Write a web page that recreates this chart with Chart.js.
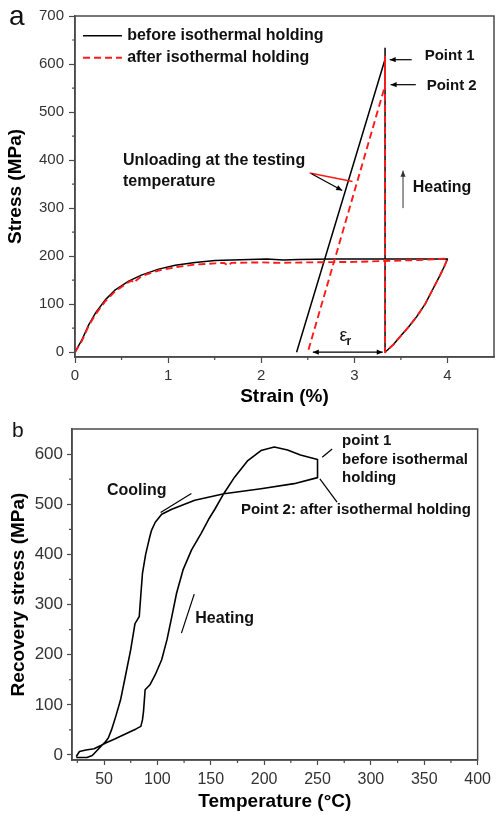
<!DOCTYPE html>
<html>
<head>
<meta charset="utf-8">
<script src="https://cdn.jsdelivr.net/npm/chart.js@4.4.1/dist/chart.umd.min.js"></script>
<style>
  html, body { margin: 0; padding: 0; background: #fff; }
  #wrap { position: relative; width: 496px; height: 816px; }
  .panel { position: absolute; left: 0; width: 496px; }
  #panelA { top: 0; height: 410px; }
  #panelB { top: 410px; height: 406px; }
</style>
</head>
<body>
<div id="wrap">
  <div class="panel" id="panelA"><canvas id="chartA" width="496" height="410"></canvas></div>
  <div class="panel" id="panelB"><canvas id="chartB" width="496" height="406"></canvas></div>
</div>
<script>
// panel a: stress-strain, before / after isothermal holding
const strainBefore = [0, 0.075, 0.147, 0.218, 0.325, 0.433, 0.576, 0.719, 0.898, 1.076, 1.29, 1.505, 1.685, 2.06, 2.24, 2.4, 2.77, 3.31, 4.0,
  3.97, 3.92, 3.84, 3.76, 3.67, 3.58, 3.49, 3.42, 3.33, 3.33, 3.33, 2.38];
const stressBefore = [0, 26, 57, 81, 109, 130, 148, 161, 173, 181, 187, 191, 192, 194, 192, 193, 194, 194, 194,
  180, 160, 130, 100, 74, 52, 32, 16, 0, 633, 610, 0];
const strainAfter = [0, 0.075, 0.147, 0.218, 0.325, 0.433, 0.576, 0.61, 0.635, 0.66, 0.719, 0.898, 1.076, 1.29, 1.505, 1.6, 1.64, 1.68,
  2.0, 2.2, 2.5, 3.0, 3.33, 3.7, 4.0,
  3.97, 3.92, 3.84, 3.76, 3.67, 3.58, 3.49, 3.42, 3.33, 3.33, 3.33, 2.5];
const stressAfter = [0, 24, 55, 78, 106, 127, 146, 149, 144, 150, 159, 170, 177, 182.5, 185, 186, 180, 186,
  187, 186, 187, 188, 190, 192, 195,
  180, 160, 130, 100, 74, 52, 32, 16, 0, 615, 555, 0];
const strainTicks = [0, 1, 2, 3, 4];
const strainMinor = [0.5, 1.5, 2.5, 3.5];
const stressTicks = [0, 100, 200, 300, 400, 500, 600, 700];
const stressMinor = [50, 150, 250, 350, 450, 550, 650];

// panel b: recovery stress vs temperature (heating, holding, cooling)
const tempB = [24, 27, 33, 40.7, 47, 51.5, 60, 70, 80, 84.5, 86, 87, 88.5, 93, 98, 104, 109, 113.5, 118, 124,
  132, 141, 148, 153.8, 162.4, 172.3, 184.7, 197, 209.5, 221.9, 234, 250, 250,
  228, 197, 162.4, 135, 113.5, 104, 98, 94.5, 92.5, 89, 86, 84.5, 83, 79, 75, 70, 65.5, 61, 57, 54, 51.5, 47, 39, 34, 24];
const recB = [-3, 7, 10, 12.5, 19, 24, 32, 42, 52, 57, 70, 87, 130, 140, 160, 190, 230, 276, 323, 369,
  409, 442, 470, 490, 522, 554, 587, 607, 614, 608, 598, 589, 553,
  541, 531, 521, 508, 490, 480, 464, 448, 432, 400, 362, 320, 276, 262, 210, 157, 110, 77, 50, 34, 27, 17, -1, -5, -5];
const tempTicks = [50, 100, 150, 200, 250, 300, 350, 400];
const tempMinor = [25, 75, 125, 175, 225, 275, 325, 375];
const recTicks = [0, 100, 200, 300, 400, 500, 600];
const recMinor = [50, 150, 250, 350, 450, 550];

const FONT = "'Liberation Sans', Arial, Helvetica, sans-serif";
const AXIS = '#4a4a4a';
const TICK_TXT = '#333333';
const RED = '#ff1a1a';

function pts(xs, ys) {
  return xs.map((v, i) => ({ x: v, y: ys[i] }));
}

function linAxis(o) {
  return {
    type: 'linear', position: o.pos, min: o.min, max: o.max,
    afterBuildTicks: s => { s.ticks = o.ticks.map(v => ({ value: v })); },
    afterFit: s => { if (o.pos === 'left') s.width = o.size; else s.height = o.size; },
    grid: { drawOnChartArea: false, drawTicks: true, tickLength: o.tickLen, tickColor: AXIS, tickWidth: 1.2 },
    border: { display: true, color: AXIS, width: 1.5 },
    ticks: { color: TICK_TXT, font: { family: FONT, size: o.tickSize }, padding: o.tickPad,
      maxRotation: 0, autoSkip: false, callback: v => String(v) },
    title: { display: true, text: o.title, color: '#000',
      font: { family: FONT, size: 19, weight: 'bold' }, padding: o.titlePad }
  };
}

// box round the plot area
const framePlugin = {
  id: 'frame',
  afterDraw(chart) {
    const { ctx, chartArea: a } = chart;
    ctx.save();
    ctx.strokeStyle = AXIS;
    ctx.lineWidth = 1.5;
    ctx.strokeRect(a.left, a.top, a.right - a.left, a.bottom - a.top);
    ctx.restore();
  }
};

// short minor ticks between the labelled ones
const minorPlugin = {
  id: 'minorTicks',
  afterDraw(chart, args, opts) {
    const { ctx, chartArea: a, scales: { x, y } } = chart;
    ctx.save();
    ctx.strokeStyle = AXIS;
    ctx.lineWidth = 1.2;
    ctx.beginPath();
    opts.x.forEach(v => {
      const p = x.getPixelForValue(v);
      ctx.moveTo(p, a.bottom); ctx.lineTo(p, a.bottom + opts.len);
    });
    opts.y.forEach(v => {
      const p = y.getPixelForValue(v);
      ctx.moveTo(a.left, p); ctx.lineTo(a.left - opts.len, p);
    });
    ctx.stroke();
    ctx.restore();
  }
};

function arrowHead(ctx, x1, y1, x2, y2, color) {
  const ang = Math.atan2(y2 - y1, x2 - x1);
  const L = 6, W = 2.6;
  ctx.beginPath();
  ctx.moveTo(x2, y2);
  ctx.lineTo(x2 - L * Math.cos(ang) + W * Math.sin(ang), y2 - L * Math.sin(ang) - W * Math.cos(ang));
  ctx.lineTo(x2 - L * Math.cos(ang) - W * Math.sin(ang), y2 - L * Math.sin(ang) + W * Math.cos(ang));
  ctx.closePath();
  ctx.fillStyle = color;
  ctx.fill();
}

// labels, legend and arrows placed in data units
const notesPlugin = {
  id: 'notes',
  afterDatasetsDraw(chart, args, opts) {
    const { ctx, scales: { x, y } } = chart;
    const px = v => x.getPixelForValue(v);
    const py = v => y.getPixelForValue(v);
    ctx.save();
    (opts.lines || []).forEach(l => {
      const c = l.color || '#000';
      const x1 = px(l.from[0]), y1 = py(l.from[1]), x2 = px(l.to[0]), y2 = py(l.to[1]);
      ctx.beginPath();
      ctx.strokeStyle = c;
      ctx.lineWidth = l.width || 1.3;
      ctx.setLineDash(l.dash || []);
      ctx.moveTo(x1, y1);
      ctx.lineTo(x2, y2);
      ctx.stroke();
      ctx.setLineDash([]);
      if (l.head) arrowHead(ctx, x1, y1, x2, y2, c);
      if (l.tail) arrowHead(ctx, x2, y2, x1, y1, c);
    });
    ctx.textAlign = 'left';
    ctx.textBaseline = 'middle';
    (opts.texts || []).forEach(t => {
      ctx.fillStyle = t.color || '#111';
      ctx.font = (t.bold === false ? '' : 'bold ') + t.size + 'px ' + FONT;
      const X = px(t.x), Y = py(t.y);
      ctx.fillText(t.t, X, Y);
      if (t.sub) {
        const w = ctx.measureText(t.t).width;
        ctx.font = 'bold ' + Math.round(t.size * 0.65) + 'px ' + FONT;
        ctx.fillText(t.sub, X + w - 1, Y + t.size * 0.35);
      }
    });
    if (opts.tag) {
      ctx.fillStyle = '#111';
      ctx.textBaseline = 'alphabetic';
      ctx.font = opts.tag.size + 'px ' + FONT;
      ctx.fillText(opts.tag.text, opts.tag.x, opts.tag.y);
    }
    ctx.restore();
  }
};

Chart.defaults.font.family = FONT;

new Chart(document.getElementById('chartA'), {
  type: 'scatter',
  data: {
    datasets: [
      { label: 'after isothermal holding', data: pts(strainAfter, stressAfter), showLine: true,
        borderColor: RED, borderWidth: 1.9, borderDash: [7, 4], borderJoinStyle: 'round',
        pointRadius: 0, tension: 0, order: 0 },
      { label: 'before isothermal holding', data: pts(strainBefore, stressBefore), showLine: true,
        borderColor: '#000', borderWidth: 1.5, borderJoinStyle: 'round',
        pointRadius: 0, tension: 0, order: 1 }
    ]
  },
  options: {
    responsive: false, animation: false, devicePixelRatio: 1,
    layout: { padding: { top: 16, right: 2, left: 0, bottom: 0 } },
    scales: {
      x: linAxis({ pos: 'bottom', min: 0, max: 4.5, ticks: strainTicks, size: 53, tickLen: 6, tickSize: 15,
        tickPad: 4, title: 'Strain (%)', titlePad: { top: 0, bottom: 2 } }),
      y: linAxis({ pos: 'left', min: -10, max: 700, ticks: stressTicks, size: 75, tickLen: 6, tickSize: 15,
        tickPad: 5, title: 'Stress (MPa)', titlePad: { top: 4, bottom: 0 } })
    },
    plugins: {
      legend: { display: false },
      tooltip: { enabled: false },
      minorTicks: { x: strainMinor, y: stressMinor, len: 3 },
      notes: {
        tag: { text: 'a', x: 9, y: 25, size: 28 },
        lines: [
          { from: [0.086, 659], to: [0.504, 659], color: '#000', width: 1.5 },
          { from: [0.086, 613], to: [0.504, 613], color: RED, width: 1.9, dash: [7, 4] },
          { from: [3.616, 609], to: [3.38, 609], head: true, width: 1.2 },
          { from: [3.66, 557], to: [3.39, 557], head: true, width: 1.2 },
          { from: [2.52, 373], to: [2.98, 355.4], color: RED, width: 1.6 },
          { from: [2.54, 371.5], to: [2.87, 336.7], head: true, width: 1.3 },
          { from: [3.523, 300], to: [3.523, 378], head: true, width: 1, color: '#333' },
          { from: [3.305, 0], to: [2.554, 0], head: true, tail: true, width: 1.2 }
        ],
        texts: [
          { t: 'before isothermal holding', x: 0.56, y: 659, size: 16 },
          { t: 'after isothermal holding', x: 0.56, y: 613, size: 16 },
          { t: 'Point 1', x: 3.755, y: 617, size: 15 },
          { t: 'Point 2', x: 3.777, y: 555, size: 15 },
          { t: 'Unloading at the testing', x: 0.515, y: 398.5, size: 16 },
          { t: 'temperature', x: 0.515, y: 355, size: 16 },
          { t: 'Heating', x: 3.627, y: 342, size: 16 },
          { t: 'ε', x: 2.84, y: 34, size: 18, bold: false, sub: 'r' }
        ]
      }
    }
  },
  plugins: [framePlugin, minorPlugin, notesPlugin]
});

new Chart(document.getElementById('chartB'), {
  type: 'scatter',
  data: {
    datasets: [
      { label: 'Recovery stress', data: pts(tempB, recB), showLine: true,
        borderColor: '#000', borderWidth: 1.6, borderJoinStyle: 'round',
        pointRadius: 0, tension: 0 }
    ]
  },
  options: {
    responsive: false, animation: false, devicePixelRatio: 1,
    layout: { padding: { top: 19, right: 14, left: 0, bottom: 0 } },
    scales: {
      x: linAxis({ pos: 'bottom', min: 20, max: 400, ticks: tempTicks, size: 56, tickLen: 5, tickSize: 16,
        tickPad: 5, title: 'Temperature (°C)', titlePad: { top: 0, bottom: 3 } }),
      y: linAxis({ pos: 'left', min: -10, max: 650, ticks: recTicks, size: 72, tickLen: 5, tickSize: 17,
        tickPad: 4, title: 'Recovery stress (MPa)', titlePad: { top: 7, bottom: 0 } })
    },
    plugins: {
      legend: { display: false },
      tooltip: { enabled: false },
      minorTicks: { x: tempMinor, y: recMinor, len: 3 },
      notes: {
        tag: { text: 'b', x: 12, y: 27, size: 21 },
        lines: [
          { from: [263.7, 610], to: [254.4, 593.6], width: 1.2 },
          { from: [252.2, 550.7], to: [268.3, 504], width: 1.2 },
          { from: [131.8, 521.5], to: [103, 483.7], width: 1.2 },
          { from: [122.5, 243], to: [134.5, 320.7], width: 1.2 }
        ],
        texts: [
          { t: 'point 1', x: 273, y: 627, size: 15 },
          { t: 'before isothermal', x: 273, y: 589, size: 15 },
          { t: 'holding', x: 273, y: 553, size: 15 },
          { t: 'Point 2: after isothermal holding', x: 178.2, y: 489.7, size: 15 },
          { t: 'Cooling', x: 52.8, y: 527, size: 16 },
          { t: 'Heating', x: 135.5, y: 271, size: 16 }
        ]
      }
    }
  },
  plugins: [framePlugin, minorPlugin, notesPlugin]
});
</script>
</body>
</html>
